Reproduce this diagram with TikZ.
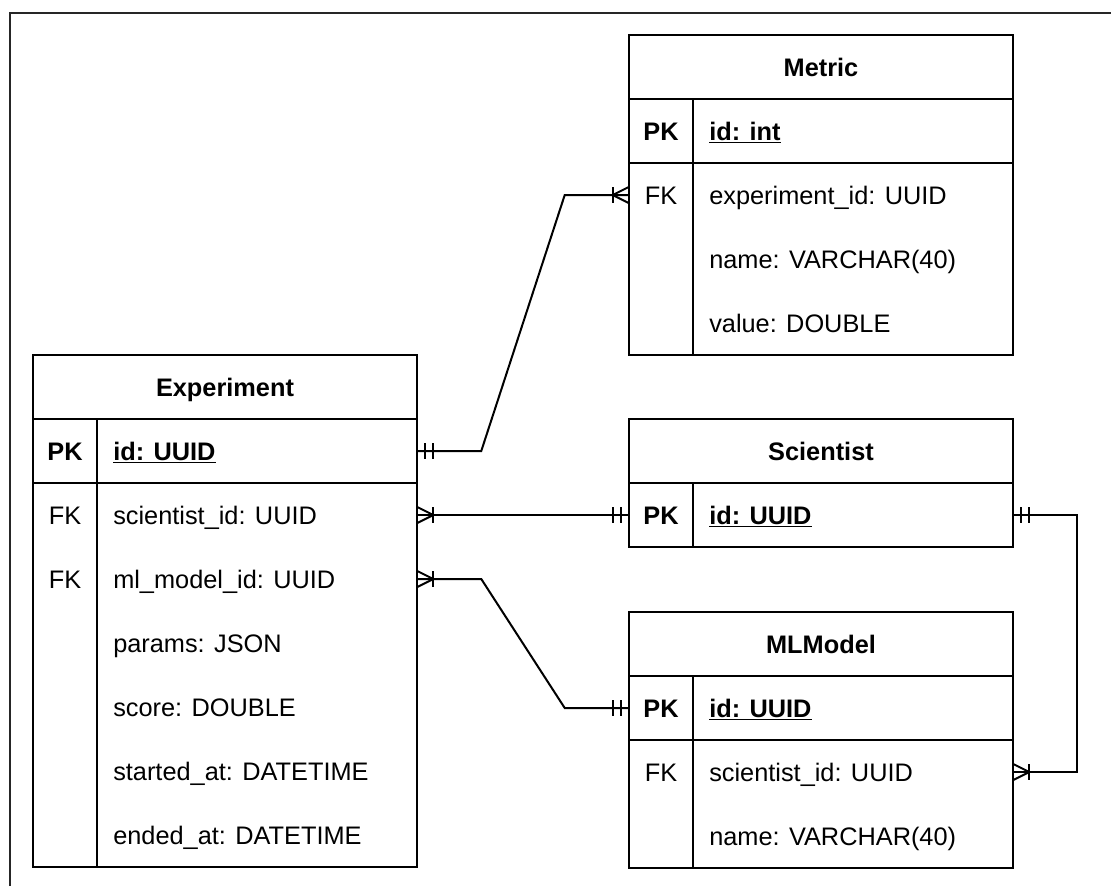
\documentclass[tikz,border=0pt]{standalone}
\usepackage{fontspec}
\setmainfont{Liberation Sans}
\usetikzlibrary{calc}

\tikzset{
  tbl/.style={draw=black, line width=1.5pt},
  conn/.style={draw=black, line width=1.5pt},
  frameline/.style={draw=black!85, line width=1.5pt},
  rowbox/.style={inner sep=0pt, minimum width=288pt, minimum height=48pt},
  cell/.style={inner sep=0pt, text height=13.6pt, text depth=0pt,
               font=\fontsize{19}{23}\selectfont},
  keytext/.style={cell},
  fieldtext/.style={cell, anchor=west},
  headtext/.style={cell, font=\fontsize{19}{23}\selectfont\bfseries},
  % crow's foot with bar: one or many
  pics/onemany/.style={code={
    \draw[conn] (0,-8) -- (16,0) -- (0,8);
    \draw[conn] (16,-8) -- (16,8);
  }},
  % double bar: exactly one
  pics/oneone/.style={code={
    \draw[conn] (8,-8) -- (8,8);
    \draw[conn] (16,-8) -- (16,8);
  }},
}

% one table row: name, left x, top y, key text, field text
\newcommand\tabrow[5]{%
  \node[rowbox] (#1) at (#2+192,#3+32) {};
  \node[keytext] (#1-key) at (#2+32,#3+32) {#4};
  \node[fieldtext] (#1-txt) at (#2+80,#3+32) {#5};
}

\begin{document}
\begin{tikzpicture}[x=0.75pt,y=-0.75pt]
\useasboundingbox (0,0) rectangle (1111,886);

% page frame
\draw[frameline] (10,886) -- (10,12.5) -- (1111,12.5);

% ---------- Experiment ----------
\draw[tbl] (33,355) rectangle (417,867);
\draw[tbl] (33,419) -- (417,419) (33,483) -- (417,483) (97,419) -- (97,867);
\node[headtext] (exp-head) at (225,387) {Experiment};
\tabrow{exp-pk}{33}{419}{\bfseries PK}{\bfseries\underline{id: UUID}}
\tabrow{exp-sci}{33}{483}{FK}{scientist\_id: UUID}
\tabrow{exp-ml}{33}{547}{FK}{ml\_model\_id: UUID}
\tabrow{exp-par}{33}{611}{}{params: JSON}
\tabrow{exp-sco}{33}{675}{}{score: DOUBLE}
\tabrow{exp-sta}{33}{739}{}{started\_at: DATETIME}
\tabrow{exp-end}{33}{803}{}{ended\_at: DATETIME}

% ---------- Metric ----------
\draw[tbl] (629,35) rectangle (1013,355);
\draw[tbl] (629,99) -- (1013,99) (629,163) -- (1013,163) (693,99) -- (693,355);
\node[headtext] (met-head) at (821,67) {Metric};
\tabrow{met-pk}{629}{99}{\bfseries PK}{\bfseries\underline{id: int}}
\tabrow{met-fk}{629}{163}{FK}{experiment\_id: UUID}
\tabrow{met-nam}{629}{227}{}{name: VARCHAR(40)}
\tabrow{met-val}{629}{291}{}{value: DOUBLE}

% ---------- Scientist ----------
\draw[tbl] (629,419) rectangle (1013,547);
\draw[tbl] (629,483) -- (1013,483) (693,483) -- (693,547);
\node[headtext] (sci-head) at (821,451) {Scientist};
\tabrow{sci-pk}{629}{483}{\bfseries PK}{\bfseries\underline{id: UUID}}

% ---------- MLModel ----------
\draw[tbl] (629,612) rectangle (1013,868);
\draw[tbl] (629,676) -- (1013,676) (629,740) -- (1013,740) (693,676) -- (693,868);
\node[headtext] (mlm-head) at (821,644) {MLModel};
\tabrow{mlm-pk}{629}{676}{\bfseries PK}{\bfseries\underline{id: UUID}}
\tabrow{mlm-fk}{629}{740}{FK}{scientist\_id: UUID}
\tabrow{mlm-nam}{629}{804}{}{name: VARCHAR(40)}

% ---------- relationships ----------
\draw[conn] (exp-pk.east) -- ++(64,0) -- ($(met-fk.west)+(-64,0)$) -- (met-fk.west);
\draw[conn] (exp-sci.east) -- (sci-pk.west);
\draw[conn] (exp-ml.east) -- ++(64,0) -- ($(mlm-pk.west)+(-64,0)$) -- (mlm-pk.west);
\draw[conn] (sci-pk.east) -- ++(64,0) |- (mlm-fk.east);

% cardinality ends
\path (exp-pk.east) pic {oneone};
\path (met-fk.west) pic[xscale=-1] {onemany};
\path (exp-sci.east) pic {onemany};
\path (sci-pk.west) pic[xscale=-1] {oneone};
\path (exp-ml.east) pic {onemany};
\path (mlm-pk.west) pic[xscale=-1] {oneone};
\path (sci-pk.east) pic {oneone};
\path (mlm-fk.east) pic {onemany};
\end{tikzpicture}
\end{document}
